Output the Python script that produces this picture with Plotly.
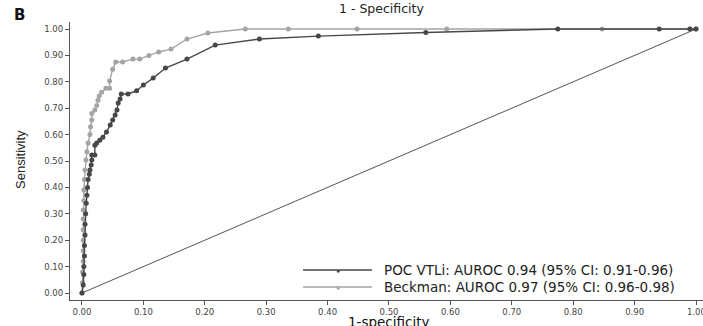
import plotly.graph_objects as go

# POC VTLi ROC points (1-specificity, sensitivity)
poc_fpr = [0, 0.002, 0.003, 0.003, 0.004, 0.004, 0.005, 0.005, 0.006, 0.007, 0.008, 0.009,
           0.010, 0.012, 0.013, 0.015, 0.016, 0.016, 0.021, 0.021, 0.024, 0.029, 0.034, 0.040,
           0.046, 0.050, 0.054, 0.057, 0.059, 0.062, 0.064, 0.075, 0.089, 0.100, 0.116, 0.136,
           0.171, 0.217, 0.289, 0.385, 0.560, 0.775, 0.940, 0.990, 1.0]
poc_sens = [0, 0.03, 0.07, 0.10, 0.14, 0.18, 0.22, 0.26, 0.30, 0.34, 0.37, 0.40,
            0.43, 0.45, 0.466, 0.485, 0.504, 0.523, 0.523, 0.56, 0.568, 0.579, 0.59, 0.61,
            0.636, 0.655, 0.674, 0.693, 0.72, 0.735, 0.754, 0.754, 0.766, 0.788, 0.814, 0.852,
            0.886, 0.939, 0.962, 0.973, 0.987, 1.0, 1.0, 1.0, 1.0]

# Beckman ROC points
bk_fpr = [0, 0.001, 0.001, 0.002, 0.002, 0.002, 0.002, 0.002, 0.002, 0.003, 0.003, 0.004,
          0.005, 0.0065, 0.008, 0.010, 0.013, 0.014, 0.016, 0.016, 0.021, 0.024, 0.026, 0.028,
          0.032, 0.039, 0.045, 0.045, 0.050, 0.055, 0.066, 0.083, 0.094, 0.109, 0.125, 0.145,
          0.171, 0.205, 0.266, 0.336, 0.448, 0.594, 0.847, 0.990, 1.0]
bk_sens = [0, 0.04, 0.08, 0.12, 0.16, 0.20, 0.24, 0.28, 0.314, 0.35, 0.39, 0.43,
           0.466, 0.504, 0.535, 0.568, 0.60, 0.63, 0.655, 0.68, 0.693, 0.71, 0.73, 0.746,
           0.76, 0.776, 0.776, 0.803, 0.848, 0.875, 0.875, 0.886, 0.886, 0.90, 0.913, 0.924,
           0.962, 0.985, 1.0, 1.0, 1.0, 1.0, 1.0, 1.0, 1.0]

ref_x = [0, 1]
ref_y = [0, 1]

tick_vals = [0, 0.1, 0.2, 0.3, 0.4, 0.5, 0.6, 0.7, 0.8, 0.9, 1.0]
tick_text = ["0.00", "0.10", "0.20", "0.30", "0.40", "0.50", "0.60", "0.70", "0.80", "0.90", "1.00"]

legend_labels = ["POC VTLi: AUROC 0.94 (95% CI: 0.91-0.96)",
                 "Beckman: AUROC 0.97 (95% CI: 0.96-0.98)"]

DARK = "#474747"
LIGHT = "#a4a4a4"
TICKFONT = dict(family="DejaVu Sans", size=8.5, color="#444444")

fig = go.Figure()
fig.add_trace(go.Scatter(x=ref_x, y=ref_y, mode="lines",
                         line=dict(color="#555555", width=1), showlegend=False, hoverinfo="skip"))
fig.add_trace(go.Scatter(x=bk_fpr, y=bk_sens, mode="lines+markers",
                         line=dict(color=LIGHT, width=1.4),
                         marker=dict(color=LIGHT, size=5, symbol="circle"),
                         showlegend=False))
fig.add_trace(go.Scatter(x=poc_fpr, y=poc_sens, mode="lines+markers",
                         line=dict(color=DARK, width=1.4),
                         marker=dict(color=DARK, size=5, symbol="circle"),
                         showlegend=False))

axis_common = dict(showgrid=False, zeroline=False,
                   showline=True, linecolor="#555555", linewidth=1.2,
                   ticks="outside", ticklen=4, tickcolor="#555555", tickwidth=1,
                   tickfont=TICKFONT)

# x-axis: last label (1.00) sits at the page edge, drawn as annotation so it is kept
fig.update_xaxes(range=[-0.0195, 1.0114], tickvals=tick_vals,
                 ticktext=tick_text[:-1] + [""], **axis_common)
fig.update_yaxes(range=[-0.0265, 1.0265], tickvals=tick_vals, ticktext=tick_text, **axis_common)

shapes = []
annotations = []
annotations.append(dict(xref="x", yref="paper", x=tick_vals[-1], y=0, yshift=-5,
                        text=tick_text[-1], showarrow=False, xanchor="center", yanchor="top",
                        font=TICKFONT))

# Manual legend
rows = [(legend_labels[0], DARK, 270), (legend_labels[1], LIGHT, 287)]
W, H = 703, 326
for label, col, ypix in rows:
    yy = (300 - ypix) / 278
    shapes.append(dict(type="line", xref="paper", yref="paper",
                       x0=(303 - 70) / 633, x1=(372 - 70) / 633, y0=yy, y1=yy,
                       line=dict(color=col, width=1.4)))
    annotations.append(dict(xref="paper", yref="paper", x=(338 - 70) / 633, y=yy,
                            text="●", showarrow=False, font=dict(size=7, color=col),
                            xanchor="center", yanchor="middle"))
    annotations.append(dict(xref="paper", yref="paper", x=(382 - 70) / 633, y=yy,
                            text=label, showarrow=False, xanchor="left", yanchor="middle",
                            font=dict(family="DejaVu Sans", size=13.5, color="#222222")))

# Titles / labels
annotations.append(dict(xref="paper", yref="paper", x=(381 - 70) / 633, y=(300 - 8) / 278,
                        text="1 - Specificity", showarrow=False, xanchor="center", yanchor="middle",
                        font=dict(family="DejaVu Sans", size=12.5, color="#222222")))
annotations.append(dict(xref="paper", yref="paper", x=(389 - 70) / 633, y=(300 - 322) / 278,
                        text="1-specificity", showarrow=False, xanchor="center", yanchor="middle",
                        font=dict(family="DejaVu Sans", size=13.5, color="#111111")))
annotations.append(dict(xref="paper", yref="paper", x=(20 - 70) / 633, y=(300 - 160) / 278,
                        text="Sensitivity", showarrow=False, xanchor="center", yanchor="middle",
                        textangle=-90,
                        font=dict(family="Liberation Sans", size=13, color="#222222")))
annotations.append(dict(xref="paper", yref="paper", x=(19 - 70) / 633, y=(300 - 15) / 278,
                        text="<b>B</b>", showarrow=False, xanchor="center", yanchor="middle",
                        font=dict(family="DejaVu Sans", size=15, color="#111111")))

fig.update_layout(width=W, height=H, margin=dict(l=70, r=0, t=22, b=26),
                  plot_bgcolor="white", paper_bgcolor="white",
                  shapes=shapes, annotations=annotations, showlegend=False)

fig.write_html("out.html")
